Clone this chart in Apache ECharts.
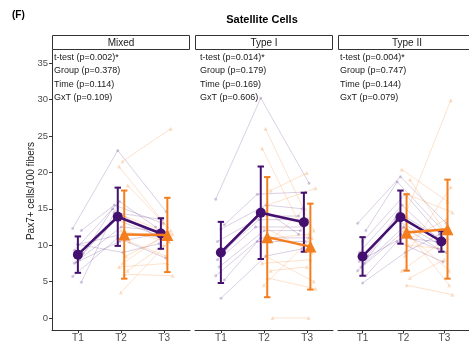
<!DOCTYPE html>
<html><head><meta charset="utf-8">
<script src="https://cdn.jsdelivr.net/npm/echarts@6/dist/echarts.min.js"></script>
<style>html,body{margin:0;padding:0;background:#fff}#c{width:469px;height:343px}</style>
</head><body><div id="c"></div>
<script>
const categories = ['T1', 'T2', 'T3'];
const panelNames = ['Mixed', 'Type I', 'Type II'];
const yTicks = [0, 5, 10, 15, 20, 25, 30, 35];
const statLines = [
  ['t-test (p=0.002)*', 'Group (p=0.378)', 'Time (p=0.114)', 'GxT (p=0.109)'],
  ['t-test (p=0.014)*', 'Group (p=0.179)', 'Time (p=0.169)', 'GxT (p=0.606)'],
  ['t-test (p=0.004)*', 'Group (p=0.747)', 'Time (p=0.144)', 'GxT (p=0.079)']
];

// Mixed
const mixedPurpleT1 = [12.3, 12.0, 10.1, 9.3, 8.9, 8.0, 7.7, 5.7, 4.9, 10.1, 7.5];
const mixedPurpleT2 = [23.0, 15.5, 11.5, 16.0, 13.5, 15.0, 12.5, 11.0, 14.5, 9.0, 10.5];
const mixedPurpleT3 = [14.6, 13.0, 11.2, 12.5, 11.0, 10.8, 12.0, 8.2, 13.5, 10.2, 11.5];
const mixedOrangeT2 = [21.5, 20.8, 18.2, 14.0, 12.0, 10.5, 8.5, 7.5, 7.0, 6.5, 6.0, 3.5];
const mixedOrangeT3 = [26.0, 12.5, 13.0, 11.5, 10.5, 8.5, 11.0, 12.0, 7.5, 10.0, 5.8, 10.5];
const mixedPurpleMean = [8.7, 13.9, 11.6];
const mixedPurpleErr = [2.5, 4.0, 2.1];
const mixedOrangeMean = [11.45, 11.4];
const mixedOrangeErr = [6.05, 5.1];

// Type I
const type1PurpleT1 = [16.3, 12.8, 12.2, 10.5, 9.5, 8.5, 7.0, 5.8, 5.2, 2.7, 8.0];
const type1PurpleT2 = [30.2, 17.0, 15.5, 14.0, 13.5, 12.5, 12.0, 11.0, 10.5, 8.5, 15.0];
const type1PurpleT3 = [18.5, 17.3, 15.0, 14.0, 13.5, 12.5, 12.0, 11.0, 10.5, 9.5, 11.5];
const type1OrangeT2 = [26.0, 23.3, 17.5, 15.5, 12.5, 11.0, 10.5, 8.5, 7.5, 6.5, 5.5, 4.5, 0.0];
const type1OrangeT3 = [12.0, 10.0, 19.9, 17.8, 9.0, 11.5, 15.0, 5.0, 8.0, 7.0, 4.0, 11.0, 0.0];
const type1PurpleMean = [9.0, 14.45, 13.15];
const type1PurpleErr = [4.2, 6.35, 4.05];
const type1OrangeMean = [11.1, 9.8];
const type1OrangeErr = [8.25, 5.9];

// Type II
const type2PurpleT1 = [13.0, 12.0, 10.5, 9.0, 8.5, 7.5, 7.0, 6.5, 5.8, 4.8, 7.8];
const type2PurpleT2 = [19.4, 18.7, 17.0, 15.5, 14.5, 13.5, 12.5, 11.5, 10.5, 9.0, 11.0];
const type2PurpleT3 = [13.0, 12.0, 11.5, 11.0, 10.5, 10.0, 9.5, 9.0, 7.7, 11.5, 10.5];
const type2OrangeT2 = [14.0, 20.4, 19.0, 17.0, 12.5, 11.0, 10.0, 8.5, 6.5, 5.5, 4.5, 12.0];
const type2OrangeT3 = [29.9, 16.0, 12.0, 14.5, 4.5, 13.5, 9.5, 18.0, 11.0, 8.0, 3.2, 6.5];
const type2PurpleMean = [8.45, 13.85, 10.5];
const type2PurpleErr = [2.65, 3.65, 1.4];
const type2OrangeMean = [11.75, 12.2];
const type2OrangeErr = [5.25, 6.8];

const panels = [
  { pT: [mixedPurpleT1, mixedPurpleT2, mixedPurpleT3], oT: [mixedOrangeT2, mixedOrangeT3],
    pM: mixedPurpleMean, pE: mixedPurpleErr, oM: mixedOrangeMean, oE: mixedOrangeErr },
  { pT: [type1PurpleT1, type1PurpleT2, type1PurpleT3], oT: [type1OrangeT2, type1OrangeT3],
    pM: type1PurpleMean, pE: type1PurpleErr, oM: type1OrangeMean, oE: type1OrangeErr },
  { pT: [type2PurpleT1, type2PurpleT2, type2PurpleT3], oT: [type2OrangeT2, type2OrangeT3],
    pM: type2PurpleMean, pE: type2PurpleErr, oM: type2OrangeMean, oE: type2OrangeErr }
];

const PURPLE = '#44106F', ORANGE = '#F47E1E';
const FAINT_P = 'rgba(68,16,111,0.22)', FAINT_O = 'rgba(244,126,30,0.25)';
const FONT = 'Liberation Sans, Arial, sans-serif';
const L0 = 52, STEP = 143, W = 138, TOP = 50, H = 280;
const DODGE = 0.075;
const jit = (i, t) => ((((i * 5 + t * 3) % 7) - 3) * 0.04);

const grids = [], xAxes = [], yAxes = [], series = [], graphics = [];

function errSeries(idx, xs, means, errs, color) {
  return {
    type: 'custom', xAxisIndex: idx, yAxisIndex: idx, z: 5, silent: true,
    encode: { x: 0, y: [1, 2] },
    data: means.map((m, k) => [xs[k], m - errs[k], m + errs[k]]),
    renderItem: (params, api) => {
      const x = api.value(0);
      const top = api.coord([x, api.value(2)]);
      const bot = api.coord([x, api.value(1)]);
      const c = 3.2;
      const st = { stroke: color, lineWidth: 2 };
      return { type: 'group', children: [
        { type: 'line', shape: { x1: top[0], y1: top[1], x2: bot[0], y2: bot[1] }, style: st },
        { type: 'line', shape: { x1: top[0] - c, y1: top[1], x2: top[0] + c, y2: top[1] }, style: st },
        { type: 'line', shape: { x1: bot[0] - c, y1: bot[1], x2: bot[0] + c, y2: bot[1] }, style: st }
      ] };
    }
  };
}

panels.forEach((p, idx) => {
  const left = L0 + idx * STEP;
  grids.push({ left: left, top: TOP, width: W, height: H, containLabel: false });
  xAxes.push({
    type: 'value', gridIndex: idx, min: -0.6, max: 2.6,
    axisLine: { show: true, onZero: false, lineStyle: { color: '#333', width: 1 } },
    axisTick: { show: true, length: 3, customValues: [0, 1, 2], lineStyle: { color: '#333' } },
    axisLabel: { customValues: [0, 1, 2], formatter: v => categories[Math.round(v)],
      color: '#4d4d4d', fontSize: 10, fontFamily: FONT, margin: 3 },
    splitLine: { show: false }
  });
  yAxes.push({
    type: 'value', gridIndex: idx, min: -1.65, max: 36.8, show: idx === 0,
    axisLine: { show: true, onZero: false, lineStyle: { color: '#333', width: 1 } },
    axisTick: { show: true, length: 3, customValues: yTicks, lineStyle: { color: '#333' } },
    axisLabel: { customValues: yTicks, color: '#4d4d4d', fontSize: 9.5, fontFamily: FONT, margin: 4 },
    splitLine: { show: false }
  });
  // individual purple subjects
  p.pT[0].forEach((v, i) => {
    series.push({
      type: 'line', xAxisIndex: idx, yAxisIndex: idx, silent: true, z: 1,
      data: [[0 + jit(i, 0), p.pT[0][i]], [1 - DODGE + jit(i, 1), p.pT[1][i]], [2 - DODGE + jit(i, 2), p.pT[2][i]]],
      symbol: 'circle', symbolSize: 3, showSymbol: true,
      lineStyle: { color: FAINT_P, width: 0.9 }, itemStyle: { color: FAINT_P }
    });
  });
  // individual orange subjects
  p.oT[0].forEach((v, i) => {
    series.push({
      type: 'line', xAxisIndex: idx, yAxisIndex: idx, silent: true, z: 1,
      data: [[1 + DODGE + jit(i, 3), p.oT[0][i]], [2 + DODGE + jit(i, 4), p.oT[1][i]]],
      symbol: 'triangle', symbolSize: 4, showSymbol: true,
      lineStyle: { color: FAINT_O, width: 0.9 }, itemStyle: { color: FAINT_O }
    });
  });
  const px = [0, 1 - DODGE, 2 - DODGE];
  const ox = [1 + DODGE, 2 + DODGE];
  series.push(errSeries(idx, px, p.pM, p.pE, PURPLE));
  series.push({
    type: 'line', xAxisIndex: idx, yAxisIndex: idx, silent: true, z: 6,
    data: p.pM.map((m, k) => [px[k], m]),
    symbol: 'circle', symbolSize: 10,
    lineStyle: { color: PURPLE, width: 2.5 }, itemStyle: { color: PURPLE }
  });
  series.push(errSeries(idx, ox, p.oM, p.oE, ORANGE));
  series.push({
    type: 'line', xAxisIndex: idx, yAxisIndex: idx, silent: true, z: 7,
    data: p.oM.map((m, k) => [ox[k], m]),
    symbol: 'triangle', symbolSize: 12,
    lineStyle: { color: ORANGE, width: 2.5 }, itemStyle: { color: ORANGE }
  });
  // strip
  graphics.push({ type: 'rect', shape: { x: left + 0.5, y: 35.5, width: W - 1, height: 14 },
    style: { fill: '#fff', stroke: '#333', lineWidth: 1 }, z: 10 });
  graphics.push({ type: 'text', x: left + W / 2, y: 43, z: 11,
    style: { text: panelNames[idx], fill: '#1a1a1a', font: '10px ' + FONT, textAlign: 'center', textVerticalAlign: 'middle' } });
  // stats text
  const tx = [54, 200, 340][idx];
  statLines[idx].forEach((s, k) => {
    graphics.push({ type: 'text', x: tx, y: 57.5 + k * 13.5, z: 11,
      style: { text: s, fill: '#1a1a1a', font: '9px ' + FONT, textAlign: 'left', textVerticalAlign: 'middle' } });
  });
});

graphics.push({ type: 'text', x: 12, y: 15, style: { text: '(F)', fill: '#000', font: 'bold 10px ' + FONT, textAlign: 'left', textVerticalAlign: 'middle' } });
graphics.push({ type: 'text', x: 262, y: 20, style: { text: 'Satellite Cells', fill: '#000', font: 'bold 11px ' + FONT, textAlign: 'center', textVerticalAlign: 'middle' } });
graphics.push({ type: 'text', x: 31, y: 191, rotation: Math.PI / 2,
  style: { text: 'Pax7+ cells/100 fibers', fill: '#1a1a1a', font: '10px ' + FONT, textAlign: 'center', textVerticalAlign: 'middle' } });

const chart = echarts.init(document.getElementById('c'), null, { renderer: 'canvas' });
chart.setOption({
  animation: false,
  backgroundColor: '#fff',
  grid: grids, xAxis: xAxes, yAxis: yAxes, series: series, graphic: graphics
});
</script></body></html>
